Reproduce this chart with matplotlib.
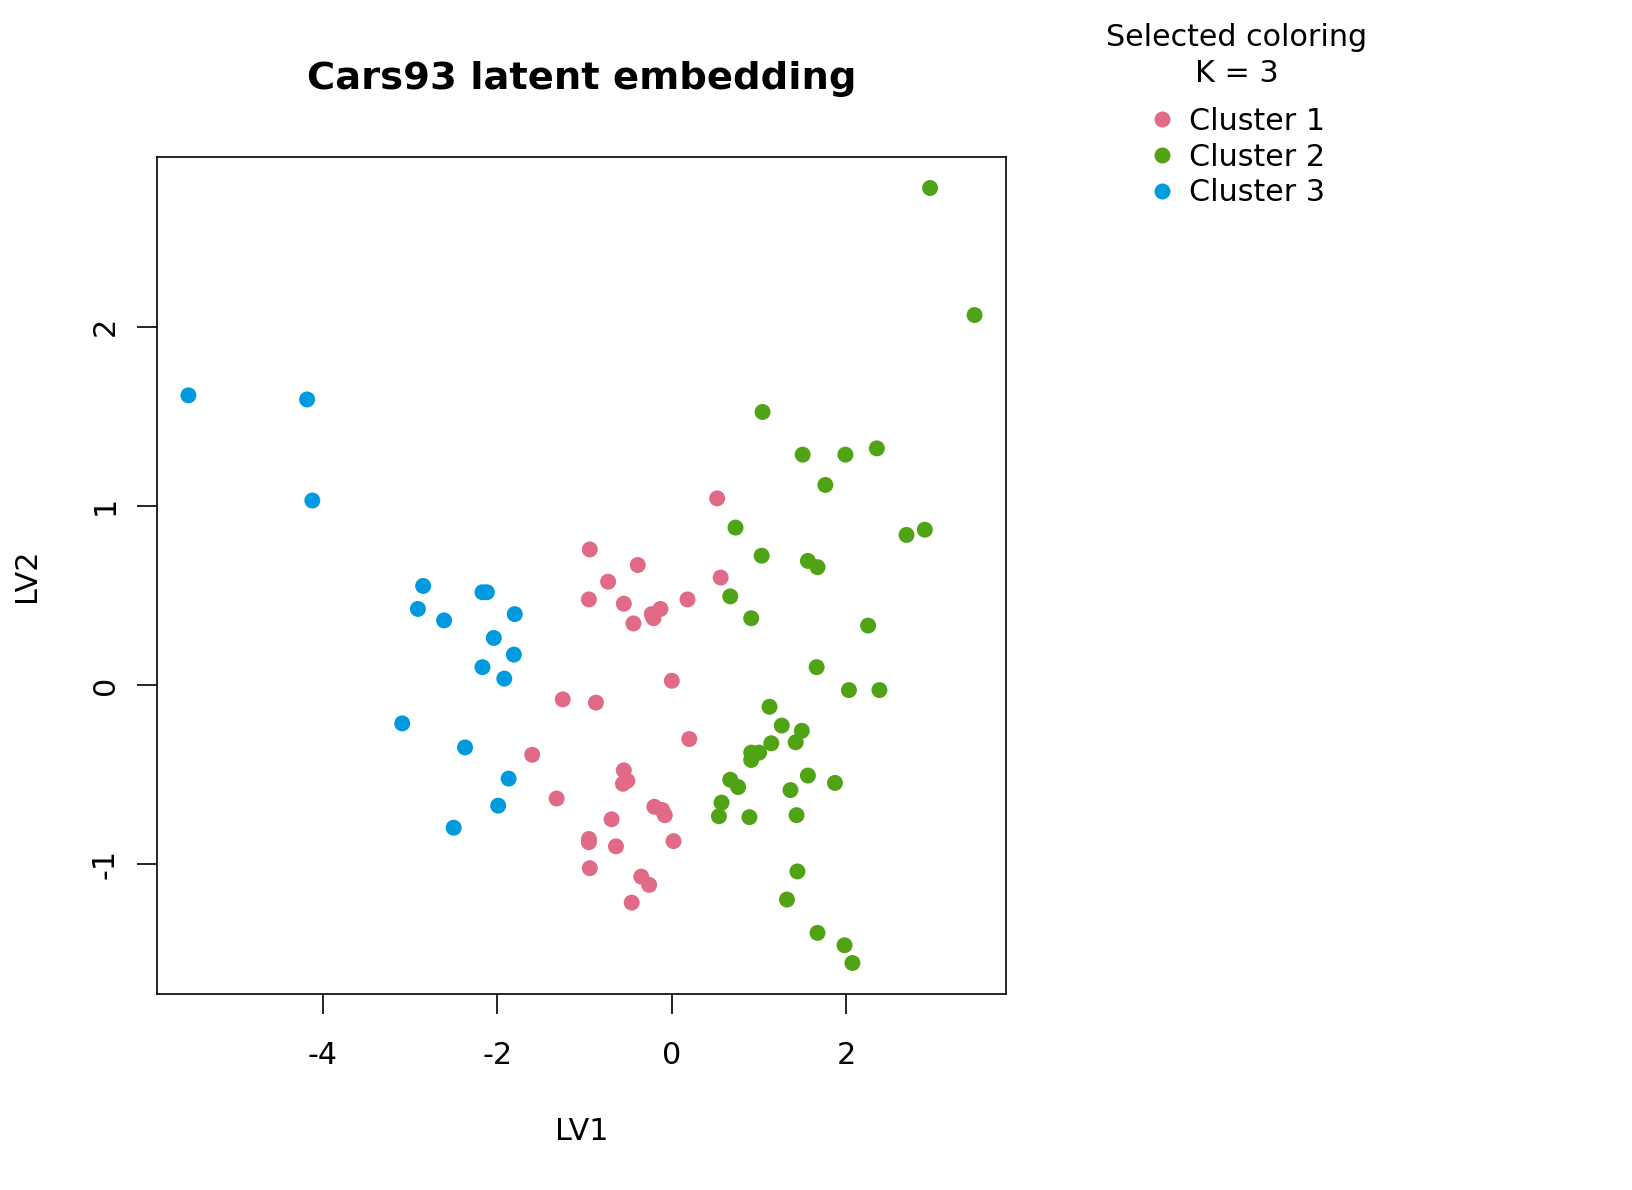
import numpy as np
import matplotlib.pyplot as plt
from matplotlib.lines import Line2D

# latent coordinates, grouped by cluster
lv1_c1 = [0.52, -0.94, -0.39, -0.73, 0.56, -0.95, -0.55, 0.18, -0.13, -0.23, -0.21,
          -0.44, 0.00, -1.25, -0.87, 0.20, -1.60, -0.55, -0.51, -0.56, -1.32, -0.20,
          -0.11, -0.08, -0.69, -0.95, -0.95, 0.02, -0.64, -0.94, -0.35, -0.26, -0.46]
lv2_c1 = [1.041, 0.756, 0.669, 0.576, 0.599, 0.477, 0.453, 0.477, 0.424, 0.395, 0.372,
          0.343, 0.023, -0.081, -0.099, -0.302, -0.390, -0.477, -0.535, -0.552, -0.634, -0.680,
          -0.698, -0.727, -0.750, -0.860, -0.878, -0.872, -0.901, -1.023, -1.070, -1.116, -1.215]

lv1_c2 = [2.96, 3.47, 1.04, 1.50, 1.99, 2.35, 1.76, 0.73, 2.69, 2.90, 1.03, 1.56, 1.67,
          0.67, 0.91, 2.25, 1.66, 2.03, 2.38, 1.12, 1.26, 1.49, 1.14, 1.42, 1.00, 0.91,
          0.91, 0.67, 0.76, 1.56, 1.87, 1.36, 0.57, 0.54, 0.89, 1.43, 1.44, 1.32, 1.67,
          1.98, 2.07]
lv2_c2 = [2.773, 2.064, 1.523, 1.285, 1.285, 1.320, 1.116, 0.878, 0.837, 0.866, 0.721,
          0.692, 0.657, 0.494, 0.372, 0.331, 0.099, -0.029, -0.029, -0.122, -0.227, -0.256,
          -0.326, -0.320, -0.378, -0.378, -0.419, -0.529, -0.570, -0.506, -0.547, -0.587,
          -0.657, -0.733, -0.738, -0.727, -1.041, -1.198, -1.384, -1.453, -1.552]

lv1_c3 = [-5.54, -4.18, -4.12, -2.85, -2.91, -2.61, -2.17, -2.12, -1.80, -2.04, -1.81,
          -2.17, -1.92, -3.09, -2.37, -1.87, -1.99, -2.50]
lv2_c3 = [1.616, 1.593, 1.029, 0.552, 0.424, 0.360, 0.517, 0.517, 0.395, 0.262, 0.169,
          0.099, 0.035, -0.215, -0.349, -0.523, -0.674, -0.797]

cluster_names = ['Cluster 1', 'Cluster 2', 'Cluster 3']
cluster_colors = ['#E16A86', '#50A315', '#009ADE']
xticks = [-4, -2, 0, 2]
yticks = [-1, 0, 1, 2]

W, H = 1632, 1190
FS = 21.7
fig = plt.figure(figsize=(W / 100, H / 100), dpi=100)
ax = fig.add_axes([157 / W, (H - 994) / H, 849 / W, 837 / H])

groups = [(lv1_c1, lv2_c1), (lv1_c2, lv2_c2), (lv1_c3, lv2_c3)]
for (xs, ys), col in zip(groups, cluster_colors):
    ax.scatter(xs, ys, s=132, color=col, edgecolors='none', zorder=3)

# R-style 4% padding on both axes
all_x = np.concatenate([lv1_c1, lv1_c2, lv1_c3])
all_y = np.concatenate([lv2_c1, lv2_c2, lv2_c3])
px = 0.04 * (all_x.max() - all_x.min())
py = 0.04 * (all_y.max() - all_y.min())
ax.set_xlim(all_x.min() - px, all_x.max() + px)
ax.set_ylim(all_y.min() - py, all_y.max() + py)

ax.set_xticks(xticks)
ax.set_yticks(yticks)
ax.set_xticklabels([str(t) for t in xticks])
ax.set_yticklabels([str(t) for t in yticks], rotation=90, va='center')
ax.tick_params(direction='out', length=14.4, width=1.2, labelsize=FS)
ax.tick_params(axis='x', pad=19.5)
ax.tick_params(axis='y', pad=12.5)
for sp in ax.spines.values():
    sp.set_linewidth(1.2)

ax.set_xlabel('LV1', fontsize=FS)
ax.xaxis.set_label_coords(0.5, (994 - 1140) / 837)
ax.xaxis.label.set_va('baseline')
ax.set_ylabel('LV2', fontsize=FS)
ax.yaxis.set_label_coords((35 - 157) / 849, 0.5)
ax.yaxis.label.set_va('baseline')

fig.text(582 / W, 1 - 89 / H, 'Cars93 latent embedding', fontsize=27.7,
         fontweight='bold', ha='center', va='baseline')

# legend block on the right
fig.text(1237 / W, 1 - 46 / H, 'Selected coloring', fontsize=FS, ha='center', va='baseline')
fig.text(1237 / W, 1 - 82 / H, 'K = 3', fontsize=FS, ha='center', va='baseline')
handles = [Line2D([], [], marker='o', linestyle='none', markersize=11.5,
                  markerfacecolor=c, markeredgecolor='none') for c in cluster_colors]
fig.legend(handles, cluster_names, loc='upper left',
           bbox_to_anchor=(1147 / W, 1 - 107 / H), frameon=False, fontsize=FS,
           borderpad=0, borderaxespad=0, handlelength=1.0, handletextpad=0.4,
           labelspacing=0.22)

fig.savefig('out.png', dpi=100)
